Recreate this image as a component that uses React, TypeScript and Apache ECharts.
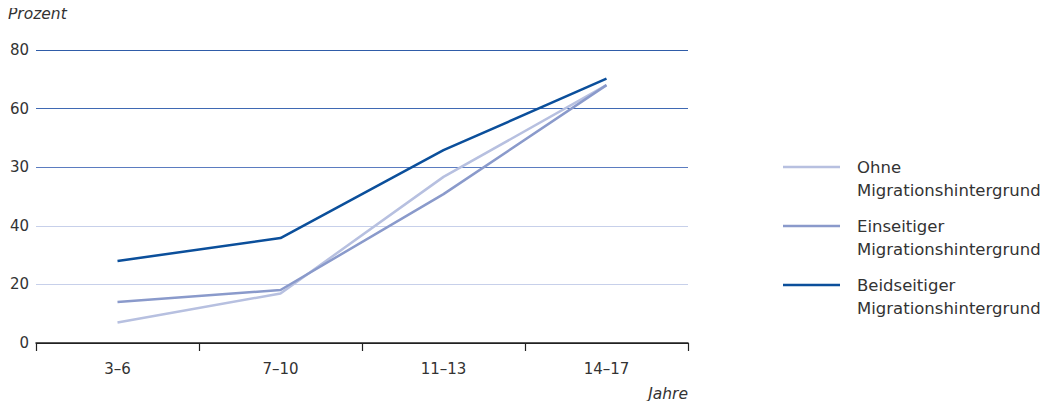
import React, { useEffect, useRef } from "react";
import * as echarts from "echarts";

const categories = ["3–6", "7–10", "11–13", "14–17"];
const yTickLabels = ["0", "20", "40", "30", "60", "80"];
const seriesNames = [
  ["Ohne", "Migrationshintergrund"],
  ["Einseitiger", "Migrationshintergrund"],
  ["Beidseitiger", "Migrationshintergrund"],
];
const ohne = [7.0, 16.9, 56.7, 88.0];
const einseitig = [14.0, 18.1, 50.8, 88.0];
const beidseitig = [28.0, 35.8, 65.8, 90.2];
const seriesValues = [ohne, einseitig, beidseitig];
const colors = ["#b7c0e0", "#8a9acb", "#0b4f9b"];

const FONT = "'DejaVu Sans', 'Noto Sans', sans-serif";

export default function App() {
  const ref = useRef<HTMLDivElement>(null);
  useEffect(() => {
    if (!ref.current) return;
    const chart = echarts.init(ref.current, undefined, { renderer: "svg" });
    const legendGraphics: any[] = [];
    seriesNames.forEach((lines, i) => {
      const top = 167 + i * 59;
      legendGraphics.push({
        type: "line",
        shape: { x1: 783, y1: top, x2: 840, y2: top },
        style: { stroke: colors[i], lineWidth: 2.5 },
      });
      legendGraphics.push({
        type: "text",
        x: 857,
        y: top - 11.5,
        style: {
          text: lines.join("\n"),
          font: `16.5px ${FONT}`,
          fill: "#333",
          lineHeight: 23,
        },
      });
    });
    chart.setOption({
      animation: false,
      grid: { left: 36, right: 368, top: 50, bottom: 66, containLabel: false },
      xAxis: {
        type: "category",
        data: categories,
        boundaryGap: true,
        axisLine: { lineStyle: { color: "#222", width: 1.5 } },
        axisTick: { show: true, length: 8, lineStyle: { color: "#222", width: 1.2 } },
        axisLabel: { color: "#333", fontSize: 15, fontFamily: FONT, margin: 18 },
        splitLine: { show: false },
      },
      yAxis: {
        type: "value",
        min: 0,
        max: 100,
        interval: 20,
        axisLine: { show: false },
        axisTick: { show: false },
        axisLabel: {
          color: "#333",
          fontSize: 15,
          fontFamily: FONT,
          margin: 7,
          padding: [0, 0, 8, 0],
          formatter: (v: number) => yTickLabels[Math.round(v / 20)] ?? "",
        },
        splitLine: {
          show: true,
          lineStyle: {
            color: ["#222", "#c7d0ea", "#c7d0ea", "#5b7cc0", "#3f69b3", "#2f5ca8"],
            width: 1,
          },
        },
      },
      series: seriesValues.map((vals, i) => ({
        type: "line",
        name: seriesNames[i].join(" "),
        data: vals,
        symbol: "none",
        lineStyle: { color: colors[i], width: 2.5 },
        z: 3 + i,
      })),
      graphic: [
        {
          type: "text",
          left: 8,
          top: 6,
          style: { text: "Prozent", font: `italic 15.5px ${FONT}`, fill: "#333" },
        },
        {
          type: "text",
          right: 368,
          top: 386,
          style: { text: "Jahre", font: `italic 15.5px ${FONT}`, fill: "#333" },
        },
        ...legendGraphics,
      ],
    });
    return () => chart.dispose();
  }, []);
  return <div ref={ref} style={{ width: 1056, height: 409, margin: -8 }} />;
}
